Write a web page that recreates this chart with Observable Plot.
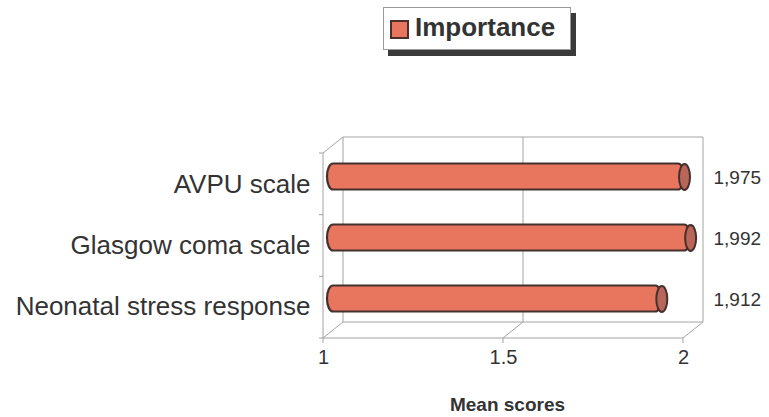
<!DOCTYPE html>
<html>
<head>
<meta charset="utf-8">
<script src="https://cdn.jsdelivr.net/npm/d3@7"></script>
<script src="https://cdn.jsdelivr.net/npm/@observablehq/plot@0.6"></script>
<style>
  html, body { margin: 0; padding: 0; background: #fff; }
  #wrap { position: relative; width: 769px; height: 417px; font-family: "Liberation Sans", Arial, sans-serif; }
  #legend {
    position: absolute; left: 383px; top: 7px; width: 186px; height: 41px;
    background: #fff; border: 1px solid #9a9a9a; box-shadow: 5px 6px 0 #3a3a3a;
  }
  #legend .swatch {
    position: absolute; left: 6px; top: 12px; width: 15px; height: 15px;
    background: #e8765e; border: 2px solid #4a2f2c;
  }
  #legend .label {
    position: absolute; left: 31px; top: 4px; font-weight: bold; font-size: 26px;
    color: #333; line-height: 30px;
  }
  #chart { position: absolute; left: 0; top: 0; }
</style>
</head>
<body>
<div id="wrap">
  <div id="chart"></div>
  <div id="legend"><div class="swatch"></div><div class="label">Importance</div></div>
</div>
<script>
// Mean importance scores per assessment tool
const categories = ["AVPU scale", "Glasgow coma scale", "Neonatal stress response"];
const values = [1.975, 1.992, 1.912];
const xDomain = [1, 2];
const xTicks = [1, 1.5, 2];
const xTickLabels = ["1", "1.5", "2"];
const axisTitle = "Mean scores";

const rows = categories.map((category, i) => ({category, value: values[i]}));

// depth offset of the 3-D box and of the bars (half depth)
const depth = {dx: 20, dy: -16};
const half = {dx: 10, dy: -8};

const barFill = "#e8765e";
const barStroke = "#45302d";
const capFill = "#b9665a";
const lineGrey = "#a3a3a3";
const textColor = "#333";

// elliptical end cap of a cylinder
const ellipse = {
  draw(context) {
    const rx = 5.5, ry = 13, k = 0.5523;
    context.moveTo(rx, 0);
    context.bezierCurveTo(rx, ry * k, rx * k, ry, 0, ry);
    context.bezierCurveTo(-rx * k, ry, -rx, ry * k, -rx, 0);
    context.bezierCurveTo(-rx, -ry * k, -rx * k, -ry, 0, -ry);
    context.bezierCurveTo(rx * k, -ry, rx, -ry * k, rx, 0);
    context.closePath();
  }
};

// walls, floor, gridline and small ticks of the 3-D box
function box(index, scales, values, dim) {
  const x = scales.x;
  const x0 = x(xDomain[0]), x1 = x(xDomain[1]);
  const top = dim.marginTop, bot = dim.height - dim.marginBottom;
  const {dx, dy} = depth;
  const g = d3.create("svg:g")
    .attr("stroke", lineGrey).attr("stroke-width", 1).attr("fill", "none");
  const seg = (a, b, c, d) => g.append("line")
    .attr("x1", a).attr("y1", b).attr("x2", c).attr("y2", d);
  // left wall
  seg(x0, top, x0, bot);
  seg(x0, top, x0 + dx, top + dy);
  seg(x0 + dx, top + dy, x0 + dx, bot + dy);
  // back wall
  seg(x0 + dx, top + dy, x1 + dx, top + dy);
  seg(x1 + dx, top + dy, x1 + dx, bot + dy);
  seg(x0 + dx, bot + dy, x1 + dx, bot + dy);
  // floor
  seg(x0, bot, x1, bot);
  seg(x1, bot, x1 + dx, bot + dy);
  seg(x0, bot, x0 + dx, bot + dy);
  // interior gridlines (back wall + floor)
  for (const t of xTicks.slice(1, -1)) {
    seg(x(t), bot, x(t) + dx, bot + dy);
    seg(x(t) + dx, bot + dy, x(t) + dx, top + dy);
  }
  // x ticks below the floor
  for (const t of xTicks) seg(x(t), bot, x(t), bot + 5);
  // category separators on the left wall
  const n = categories.length;
  for (let i = 0; i <= n; i++) {
    const yy = top + (bot - top) * i / n;
    seg(x0 - 4, yy, x0, yy);
  }
  return g.node();
}

const chart = Plot.plot({
  width: 769,
  height: 417,
  marginLeft: 323,
  marginRight: 86,
  marginTop: 153,
  marginBottom: 79,
  style: {fontFamily: "'Liberation Sans', Arial, sans-serif", color: textColor, background: "transparent"},
  x: {domain: xDomain, axis: null},
  y: {domain: categories, axis: null, padding: 0},
  marks: [
    box,
    // cylinder bodies
    Plot.barX(rows, {
      x1: () => xDomain[0], x2: "value", y: "category",
      insetTop: 17.5, insetBottom: 17.5, insetLeft: -6, rx: 6, ry: 13,
      fill: barFill, stroke: barStroke, strokeWidth: 2.2,
      dx: half.dx, dy: half.dy
    }),
    // cylinder end caps
    Plot.dot(rows, {
      x: "value", y: "category", symbol: ellipse, r: 5,
      fill: capFill, stroke: barStroke, strokeWidth: 2,
      dx: half.dx, dy: half.dy
    }),
    // value labels
    Plot.text(rows, {
      y: "category", frameAnchor: "right", textAnchor: "start",
      text: d => d.value.toFixed(3).replace(".", ","),
      dx: 30, dy: -7, fontSize: 19, fill: textColor
    }),
    // category labels
    Plot.text(categories, {
      y: d => d, frameAnchor: "left", textAnchor: "end",
      dx: -13, fontSize: 26, fill: textColor
    }),
    // x tick labels
    Plot.text(xTicks, {
      x: d => d, frameAnchor: "bottom", text: (d, i) => xTickLabels[i],
      dy: 25, fontSize: 20, fill: textColor
    }),
    // axis title
    Plot.text([axisTitle], {
      x: () => (xDomain[0] + xDomain[1]) / 2, frameAnchor: "bottom", text: d => d,
      dy: 72, dx: 4, fontSize: 19, fontWeight: "bold", fill: textColor
    })
  ]
});
document.getElementById("chart").appendChild(chart);
</script>
</body>
</html>
